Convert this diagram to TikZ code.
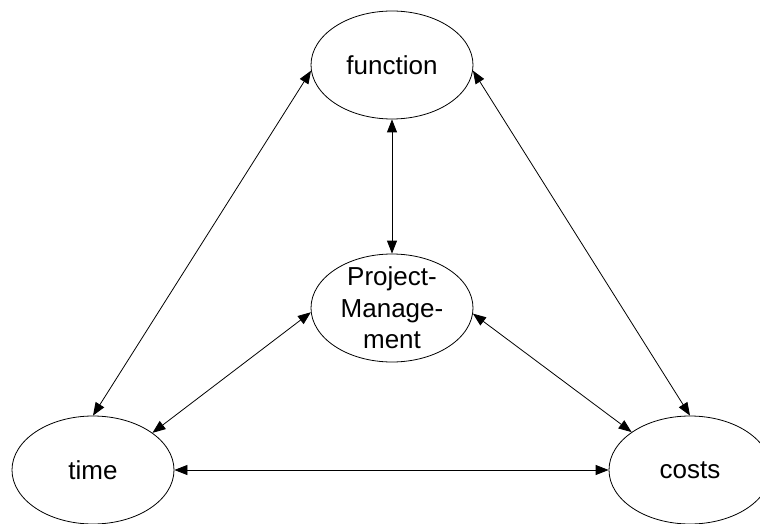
\documentclass[tikz,border=0pt]{standalone}
\usepackage{fontspec}
\setmainfont{Liberation Sans}
\usetikzlibrary{shapes.geometric,arrows.meta}
\begin{document}
\begin{tikzpicture}
        [x=1pt,y=-1pt,
        goal/.style={ellipse,draw,line width=0.8pt,minimum width=162pt,
                minimum height=108pt,inner sep=0pt,
                font=\fontsize{26}{31.5}\selectfont},
        link/.style={line width=0.8pt,
                {Triangle[length=13pt,width=10pt]}-{Triangle[length=13pt,width=10pt]}}]
        \clip (0,0) rectangle (760,524);
        \node[goal] (function) at (392,65) {function};
        \node[goal,label={[align=center,font=\fontsize{26}{31.5}\selectfont]center:Project-\\Manage-\\ment}]
                (pm) at (392,308) {};
        \node[goal] (time) at (93,470) {time};
        \node[goal] (costs) at (690,470) {costs};
        \draw[link] (function.184) -- (time.north);
        \draw[link] (function.356) -- (costs.north);
        \draw[link] (function.south) -- (pm.north);
        \draw[link] (pm.183) -- (time.32);
        \draw[link] (pm.356) -- (costs.147);
        \draw[link] (time.east) -- (costs.west);
    \end{tikzpicture}
\end{document}
